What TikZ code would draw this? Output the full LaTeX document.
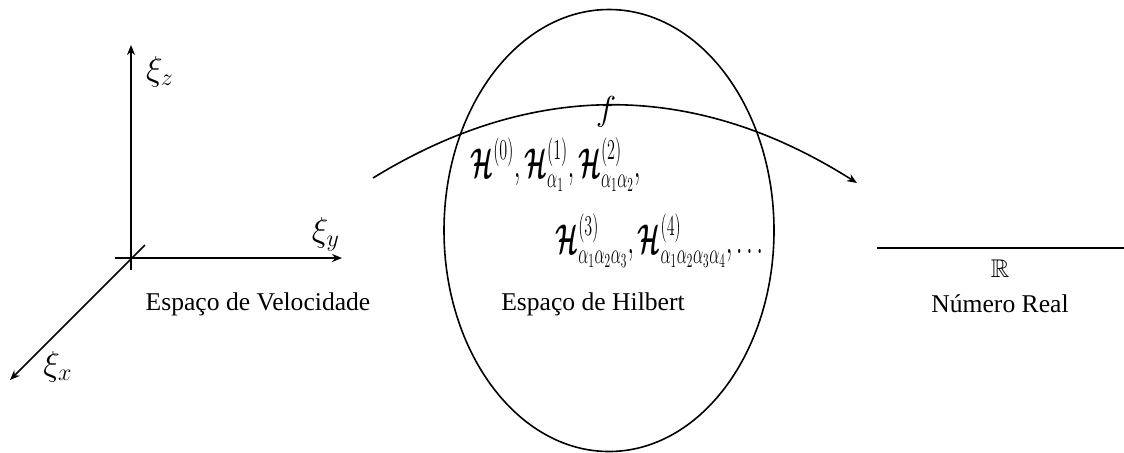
\documentclass[tikz,border=0pt]{standalone}
\usepackage{amsmath,amssymb,bm,graphicx}
\usepackage{fontspec}
\setmainfont{Liberation Serif}
\usetikzlibrary{arrows.meta,shapes.geometric}
\newcommand{\HH}{\boldsymbol{\mathcal{H}}}
\begin{document}
\begin{tikzpicture}[x=0.5pt,y=-0.5pt,
  ln/.style={line width=0.8pt},
  arr/.style={ln,-{Stealth[length=5pt,width=4pt]}},
  txt/.style={font=\fontsize{12.8}{15}\selectfont, inner sep=0pt},
  lab/.style={font=\fontsize{16.5}{19}\selectfont, inner sep=0pt},
  hexpr/.style={font=\fontsize{20}{24}\selectfont, inner sep=0pt, anchor=west}]
\useasboundingbox (0,0) rectangle (1124,452);
% axes
\coordinate (O) at (131,258);
\coordinate (Zb) at (131,270);
\coordinate (Z) at (131,45);
\coordinate (Yb) at (115,258);
\coordinate (Y) at (342,258);
\coordinate (Xb) at (145,245);
\coordinate (X) at (10,380);
\draw[arr] (Zb) -- (Z);
\draw[arr] (Yb) -- (Y);
\draw[arr] (Xb) -- (X);
\node[lab] (lz) at (160,72) {$\xi_z$};
\node[lab] (ly) at (326,234) {$\xi_y$};
\node[lab] (lx) at (58,367) {$\xi_x$};
\node[txt] (vel) at (258,304) {Espaço de Velocidade};
% Hilbert space
\node[draw, ln, ellipse, minimum width=165pt, minimum height=221pt, inner sep=0pt] (hil) at (609,230.5) {};
\node[hexpr] (h1) at (470,165) {\scalebox{0.56}[1]{$\HH^{(0)},\HH^{(1)}_{\alpha_1},\HH^{(2)}_{\alpha_1\alpha_2},$}};
\node[hexpr] (h2) at (555,241) {\scalebox{0.56}[1]{$\HH^{(3)}_{\alpha_1\alpha_2\alpha_3},\HH^{(4)}_{\alpha_1\alpha_2\alpha_3\alpha_4},\ldots$}};
\node[txt] (hlab) at (593,304) {Espaço de Hilbert};
% mapping
\coordinate (a1) at (373,178);
\coordinate (a2) at (857,183);
\draw[arr] (a1) .. controls (534,79) and (696,81) .. (a2);
\node[font=\fontsize{18}{21}\selectfont, inner sep=0pt] (f) at (606,112) {$f$};
% real numbers
\coordinate (r1) at (877,248);
\coordinate (r2) at (1124,248);
\draw[ln] (r1) -- (r2);
\node[txt] (R) at (1000,269) {$\mathbb{R}$};
\node[txt] (num) at (1000,304) {Número Real};
\end{tikzpicture}
\end{document}
